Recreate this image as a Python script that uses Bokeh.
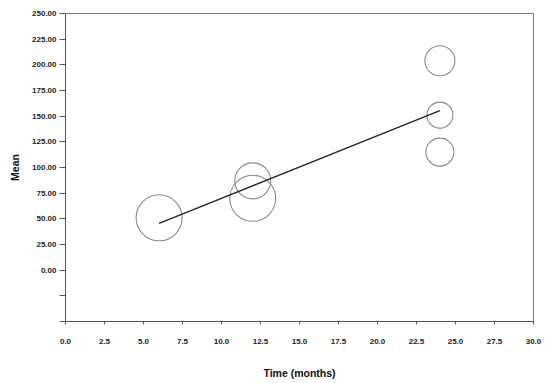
from bokeh.plotting import figure
from bokeh.models import FixedTicker, NumeralTickFormatter, Range1d
from bokeh.embed import file_html
from bokeh.resources import INLINE

# Data
time_months = [6, 12, 12, 24, 24, 24]
mean_values = [51, 87, 70, 204, 151, 115]
bubble_diam = [46, 36, 46, 30, 26, 28]   # bubble size (weight), in screen px
fit_x = [6, 24]
fit_y = [45.6, 155.3]

x_ticks = [0, 2.5, 5, 7.5, 10, 12.5, 15, 17.5, 20, 22.5, 25, 27.5, 30]
y_ticks = [-50, -25, 0, 25, 50, 75, 100, 125, 150, 175, 200, 225, 250]

FONT = "Liberation Sans"

p = figure(
    frame_width=468, frame_height=308,
    x_range=Range1d(0, 30), y_range=Range1d(-50, 250),
    output_backend="svg", toolbar_location=None,
    min_border_left=65, min_border_top=13, min_border_right=17, min_border_bottom=62,
    background_fill_color="white", border_fill_color="white",
)
p.grid.visible = False
p.outline_line_color = "#777777"
p.outline_line_width = 1

p.scatter(time_months, mean_values, size=bubble_diam, marker="circle",
          fill_color=None, line_color="#8a8a8a", line_width=1.1)
p.line(fit_x, fit_y, line_color="#222222", line_width=1.3)

for ax in (p.xaxis[0], p.yaxis[0]):
    ax.axis_line_color = "#555555"
    ax.major_tick_line_color = "#555555"
    ax.minor_tick_line_color = None
    ax.major_tick_in = 0
    ax.major_label_text_font = FONT
    ax.major_label_text_font_style = "bold"
    ax.major_label_text_font_size = "8px"
    ax.major_label_text_color = "#222222"
    ax.axis_label_text_font = FONT
    ax.axis_label_text_font_style = "bold"
    ax.axis_label_text_font_size = "10.5px"
    ax.axis_label_text_color = "#111111"

p.xaxis[0].ticker = FixedTicker(ticks=x_ticks)
p.xaxis[0].formatter = NumeralTickFormatter(format="0.0")
p.xaxis[0].major_tick_out = 3
p.xaxis[0].major_label_standoff = 14
p.xaxis[0].axis_label = "Time (months)"
p.xaxis[0].axis_label_standoff = 20

p.yaxis[0].ticker = FixedTicker(ticks=y_ticks)
p.yaxis[0].formatter = NumeralTickFormatter(format="0.00")
p.yaxis[0].major_label_overrides = {-50: "", -25: ""}
p.yaxis[0].major_tick_out = 6
p.yaxis[0].major_label_standoff = 3
p.yaxis[0].axis_label = "Mean"
p.yaxis[0].axis_label_standoff = 8

open("out.html", "w").write(file_html(p, INLINE))
